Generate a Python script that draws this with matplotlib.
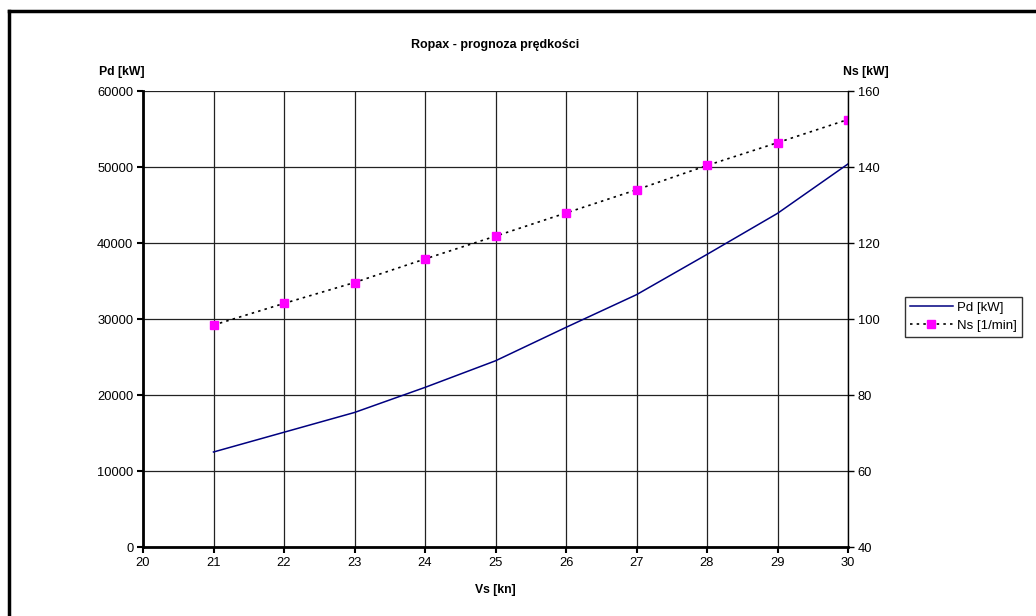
import numpy as np
import matplotlib
matplotlib.use("Agg")
from matplotlib import pyplot as plt
from matplotlib.lines import Line2D

plt.rcParams['font.family'] = ['Liberation Sans', 'DejaVu Sans']

# speed [kn]
vs = [21, 22, 23, 24, 25, 26, 27, 28, 29, 30]
# delivered power [kW]
pd_kw = [12500, 15100, 17700, 21000, 24500, 28900, 33200, 38500, 43900, 50400]
# shaft speed [1/min]
ns = [98.4, 104.1, 109.6, 115.8, 121.8, 127.9, 134.0, 140.4, 146.4, 152.5]

x_ticks = np.arange(20, 31, 1)
left_ticks = np.arange(0, 60001, 10000)
right_ticks = np.arange(40, 161, 20)

fig = plt.figure(figsize=(10.36, 6.16), dpi=100)
ax = fig.add_axes([143/1036, 1 - 547/616, (848 - 143)/1036, (547 - 91)/616])
ax2 = ax.twinx()

ax.set_xlim(20, 30)
ax.set_ylim(0, 60000)
ax2.set_ylim(40, 160)
ax.set_xticks(x_ticks)
ax.set_yticks(left_ticks)
ax2.set_yticks(right_ticks)

ax.grid(True, color='#222222', linewidth=0.9)
ax.set_axisbelow(True)

for a in (ax, ax2):
    a.spines['top'].set_visible(False)
    a.tick_params(labelsize=9.3, length=4, width=1, direction='out', pad=3)
ax.spines['left'].set_linewidth(2)
ax.spines['bottom'].set_linewidth(2)
ax.spines['right'].set_visible(False)
ax2.spines['left'].set_visible(False)
ax2.spines['bottom'].set_visible(False)
ax2.spines['right'].set_linewidth(1)
ax.tick_params(axis='both', width=1.5)

l1, = ax.plot(vs, pd_kw, color='#000080', linewidth=1.1, label='Pd [kW]')
l2, = ax2.plot(vs, ns, color='black', linestyle=(0, (1.5, 2.5)), linewidth=1.2,
               marker='s', markersize=5.5, markerfacecolor='#ff00ff',
               markeredgecolor='#ff00ff', label='Ns [1/min]')

fig.text(495/1036, 1 - 45/616, 'Ropax - prognoza prędkości', ha='center',
         va='center', fontsize=9, fontweight='bold')
fig.text(122/1036, 1 - 72/616, 'Pd [kW]', ha='center', va='center',
         fontsize=8.8, fontweight='bold')
fig.text(866/1036, 1 - 72/616, 'Ns [kW]', ha='center', va='center',
         fontsize=8.8, fontweight='bold')
fig.text(495/1036, 1 - 590/616, 'Vs [kn]', ha='center', va='center',
         fontsize=8.8, fontweight='bold')

leg = fig.legend(handles=[l1, l2], loc='upper left',
                 bbox_to_anchor=(905/1036, 1 - 297/616), fontsize=9.5,
                 frameon=True, fancybox=False, edgecolor='black',
                 borderpad=0.35, handlelength=3.3, handletextpad=0.3,
                 labelspacing=0.45, borderaxespad=0)
leg.get_frame().set_linewidth(1)

# outer chart frame
fig.add_artist(Line2D([9/1036, 9/1036], [0, 1 - 11/616], color='black',
                      linewidth=2.5, transform=fig.transFigure))
fig.add_artist(Line2D([9/1036, 1], [1 - 11/616, 1 - 11/616], color='black',
                      linewidth=2.5, transform=fig.transFigure))

fig.savefig('out.png', dpi=100)
